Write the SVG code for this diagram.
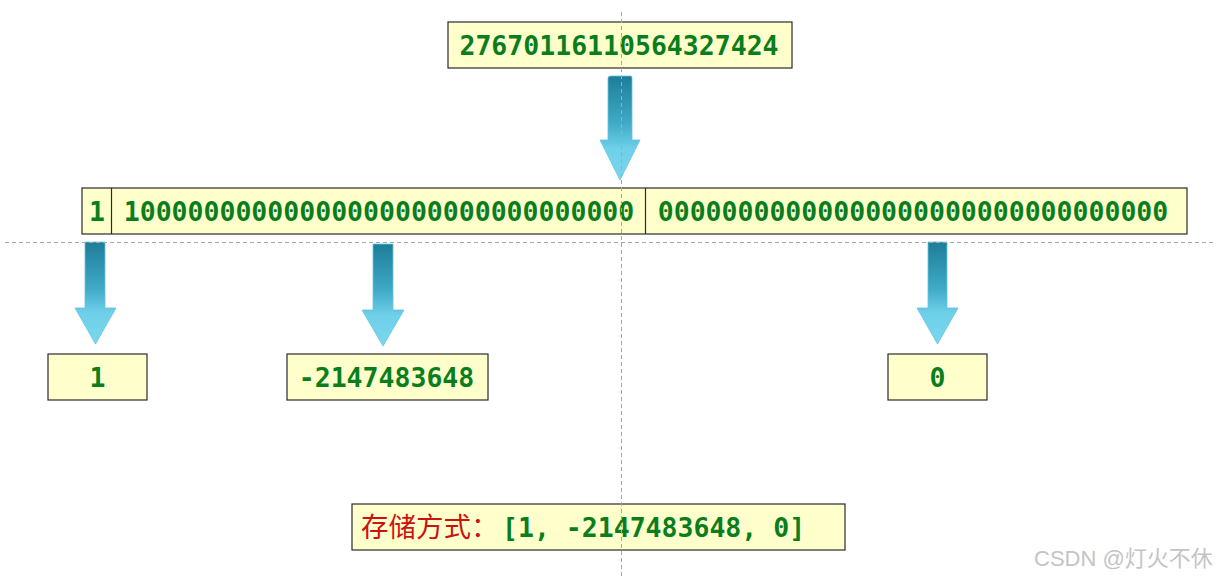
<svg xmlns="http://www.w3.org/2000/svg" width="1230" height="578" viewBox="0 0 1230 578">
<defs>
<linearGradient id="ag" x1="0" y1="0" x2="0" y2="1">
<stop offset="0" stop-color="#1e7d98"/>
<stop offset="0.45" stop-color="#3fa9c6"/>
<stop offset="0.7" stop-color="#6fd0ea"/>
<stop offset="1" stop-color="#7ad6ee"/>
</linearGradient>
<style>
.box{fill:#ffffcc;stroke:#2a2a2a;stroke-width:1.2}
.t{font-family:"DejaVu Sans Mono","Liberation Mono",monospace;font-weight:bold;font-size:26.5px;fill:#0a7e1c}
.cn{font-family:"Noto Sans CJK SC",sans-serif;font-size:27.5px;fill:#cc1111}
.guide{stroke:#a8a8a8;stroke-width:1;stroke-dasharray:4,3;fill:none}
.arrow{fill:url(#ag);stroke:#5fc5df;stroke-width:0.8;stroke-linejoin:round}
.wm{font-family:"Liberation Sans","Noto Sans CJK SC",sans-serif;font-size:22px;fill:#c4c4c4}
</style>
</defs>
<rect width="1230" height="578" fill="#ffffff"/>
<g id="top-node">
<rect class="box" x="448" y="22" width="344" height="46"/>
<text class="t" x="619" y="54.5" text-anchor="middle">27670116110564327424</text>
</g>
<g id="bits-node">
<rect class="box" x="82" y="188" width="1105" height="46"/>
<line x1="111.5" y1="188" x2="111.5" y2="234" stroke="#2a2a2a" stroke-width="1.2"/>
<line x1="645.5" y1="188" x2="645.5" y2="234" stroke="#2a2a2a" stroke-width="1.2"/>
<text class="t" x="97" y="220.5" text-anchor="middle">1</text>
<text class="t" x="379" y="220.5" text-anchor="middle">10000000000000000000000000000000</text>
<text class="t" x="913" y="220.5" text-anchor="middle">00000000000000000000000000000000</text>
</g>
<g id="node-1">
<rect class="box" x="48" y="354" width="99" height="46"/>
<text class="t" x="97.5" y="386.5" text-anchor="middle">1</text>
</g>
<g id="node-neg">
<rect class="box" x="287" y="354" width="201" height="46"/>
<text class="t" x="386.5" y="386.5" text-anchor="middle">-2147483648</text>
</g>
<g id="node-0">
<rect class="box" x="888" y="354" width="99" height="46"/>
<text class="t" x="937.5" y="386.5" text-anchor="middle">0</text>
</g>
<g id="result-node">
<rect class="box" x="352" y="504" width="493" height="46"/>
<text x="361" y="537"><tspan class="cn">存储方式：</tspan><tspan class="t" x="502" y="536.5">[1, -2147483648, 0]</tspan></text>
</g>
<g id="connectors">
<path class="arrow" d="M611,76 H631 Q632,76 632,78 V140 H640 L620,180 L600,140 H608 V78 Q608,76 611,76 Z"/>
<path class="arrow" d="M85,242 H105 V308 H116 L95.5,344 L75,308 H85 Z"/>
<path class="arrow" d="M373,244 H393 V310 H404 L383,346 L362,310 H373 Z"/>
<path class="arrow" d="M928,242 H947 V308 H958 L937.5,344 L917,308 H928 Z"/>
</g>
<g id="guides">
<line class="guide" x1="5" y1="242.5" x2="1216" y2="242.5"/>
<line class="guide" x1="621.5" y1="12" x2="621.5" y2="576"/>
</g>
<text class="wm" x="1034" y="566">CSDN @灯火不休</text>
</svg>
